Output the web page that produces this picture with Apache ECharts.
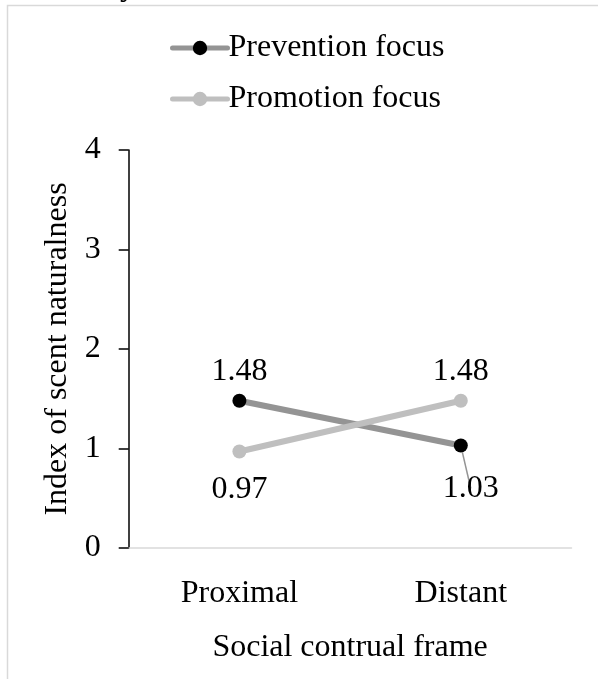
<!DOCTYPE html>
<html>
<head>
<meta charset="utf-8">
<style>
  html, body { margin: 0; padding: 0; background: #fff; }
  #chart { width: 598px; height: 679px; }
</style>
<script src="https://cdn.jsdelivr.net/npm/echarts@6/dist/echarts.min.js"></script>
</head>
<body>
<div id="chart"></div>
<script>
// Categories along the x axis
const frames = ['Proximal', 'Distant'];
// Mean index per regulatory focus
const prevention = [1.48, 1.03];
const promotion = [0.97, 1.48];
// Y axis range and step
const yMin = 0, yMax = 4, yStep = 1;

const FONT = "'Liberation Serif', 'Times New Roman', serif";
const FS = 32;

// Label placement per point: [position, distance, offset, showLeader]
const preventionLabelPos = [['top', 6, [0, 0], false], ['bottom', 15, [10, 5], true]];
const promotionLabelPos = [['bottom', 15, [0, 0], false], ['top', 6, [0, 0], false]];

function pointsWithLabels(values, places) {
  return values.map((v, i) => ({
    value: v,
    label: {
      position: places[i][0],
      distance: places[i][1],
      offset: places[i][2]
    },
    labelLine: { show: places[i][3] }
  }));
}

const chart = echarts.init(document.getElementById('chart'), null, { renderer: 'canvas' });

const labelBase = {
  show: true,
  fontFamily: FONT,
  fontSize: FS,
  color: '#000',
  formatter: p => p.value.toFixed(2)
};

chart.setOption({
  backgroundColor: '#fff',
  animation: false,
  textStyle: { fontFamily: FONT },
  graphic: [
    {
      type: 'rect',
      shape: { x: 7.5, y: 5.5, width: 700, height: 800 },
      style: { fill: 'none', stroke: '#d9d9d9', lineWidth: 1.5 },
      silent: true
    },
    {
      type: 'text',
      x: 128, y: 3,
      style: {
        text: 'y', font: FS + 'px ' + FONT, fill: '#000',
        textAlign: 'center', textVerticalAlign: 'bottom'
      },
      silent: true
    }
  ],
  legend: {
    orient: 'vertical',
    left: 170,
    top: 32,
    padding: 0,
    itemWidth: 55,
    itemHeight: 18,
    itemGap: 19,
    lineStyle: { width: 5, cap: 'round' },
    textStyle: { fontFamily: FONT, fontSize: FS, color: '#000', padding: [0, 0, 0, -4] },
    data: ['Prevention focus', 'Promotion focus']
  },
  grid: { left: 128.7, right: 26.5, top: 150, bottom: 131, containLabel: false },
  xAxis: {
    type: 'category',
    data: frames,
    boundaryGap: true,
    name: 'Social contrual frame',
    nameLocation: 'middle',
    nameGap: 84,
    nameTextStyle: { fontFamily: FONT, fontSize: FS, color: '#000' },
    axisLine: { lineStyle: { color: '#d9d9d9', width: 1.5 } },
    axisTick: { show: false },
    axisLabel: { fontFamily: FONT, fontSize: FS, color: '#000', margin: 30 },
    splitLine: { show: false }
  },
  yAxis: {
    type: 'value',
    min: yMin, max: yMax, interval: yStep,
    name: 'Index of scent naturalness',
    nameLocation: 'middle',
    nameGap: 55,
    nameTextStyle: { fontFamily: FONT, fontSize: FS, color: '#000' },
    axisLine: { show: true, lineStyle: { color: '#000', width: 1.5 } },
    axisTick: { show: true, length: 10, lineStyle: { color: '#000', width: 1.5 } },
    axisLabel: { fontFamily: FONT, fontSize: FS, color: '#000', margin: 28 },
    splitLine: { show: false }
  },
  series: [
    {
      name: 'Prevention focus',
      type: 'line',
      data: pointsWithLabels(prevention, preventionLabelPos),
      symbol: 'circle',
      symbolSize: 14,
      lineStyle: { color: '#949494', width: 6, cap: 'round' },
      itemStyle: { color: '#000', borderWidth: 0 },
      label: labelBase,
      labelLine: { lineStyle: { color: '#949494', width: 1.5 } },
      z: 2
    },
    {
      name: 'Promotion focus',
      type: 'line',
      data: pointsWithLabels(promotion, promotionLabelPos),
      symbol: 'circle',
      symbolSize: 14,
      lineStyle: { color: '#bfbfbf', width: 6, cap: 'round' },
      itemStyle: { color: '#bfbfbf', borderWidth: 0 },
      label: labelBase,
      z: 3
    }
  ]
});
</script>
</body>
</html>
